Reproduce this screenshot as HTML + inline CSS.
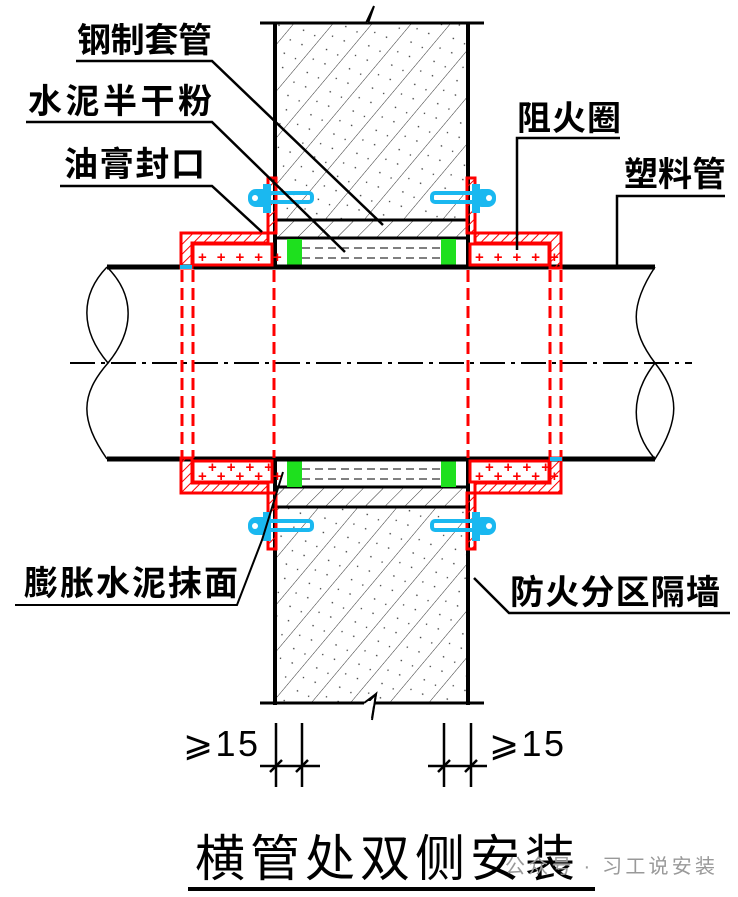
<!DOCTYPE html>
<html><head><meta charset="utf-8"><style>
html,body{margin:0;padding:0;background:#fff;}
svg{display:block;}
text{font-family:"Liberation Sans","Noto Sans CJK SC",sans-serif;}
</style></head><body>
<svg width="738" height="897" viewBox="0 0 738 897" xmlns="http://www.w3.org/2000/svg">
<defs>
<pattern id="hat" width="30" height="30" patternUnits="userSpaceOnUse" patternTransform="rotate(40)">
<line x1="0" y1="0" x2="0" y2="30" stroke="#333" stroke-width="1"/>
<circle cx="12" cy="8" r="0.8" fill="#333"/><circle cx="20" cy="20" r="0.8" fill="#333"/><circle cx="8" cy="24" r="0.7" fill="#333"/><circle cx="24" cy="5" r="0.7" fill="#333"/>
</pattern>
<pattern id="sl" width="14" height="14" patternUnits="userSpaceOnUse" patternTransform="rotate(45)">
<line x1="0" y1="0" x2="0" y2="14" stroke="#333" stroke-width="1"/>
</pattern>
<pattern id="rh" width="7" height="7" patternUnits="userSpaceOnUse" patternTransform="rotate(45)">
<line x1="0" y1="0" x2="0" y2="7" stroke="#f00" stroke-width="2"/>
</pattern>
</defs>
<rect width="738" height="897" fill="#fff"/>
<rect x="276" y="23" width="192" height="197" fill="url(#hat)"/>
<rect x="276" y="507" width="192" height="196" fill="url(#hat)"/>
<rect x="276" y="220" width="192" height="18" fill="url(#sl)"/>
<rect x="276" y="487" width="192" height="20" fill="url(#sl)"/>
<line x1="260" y1="23" x2="484" y2="23" stroke="#000" stroke-width="3"/>
<line x1="260" y1="703" x2="484" y2="703" stroke="#000" stroke-width="3"/>
<path d="M366 23 L374 6 L368 23" stroke="#000" stroke-width="2" fill="#fff"/>
<path d="M366 704 L376 694 L372 718" stroke="#000" stroke-width="2" fill="none"/>
<rect x="364" y="701" width="10" height="5" fill="#fff"/>
<path d="M364 703 L376 694 L372 720" stroke="#000" stroke-width="2" fill="none"/>
<line x1="275" y1="22" x2="275" y2="268" stroke="#000" stroke-width="4"/>
<line x1="468" y1="22" x2="468" y2="268" stroke="#000" stroke-width="4"/>
<line x1="275" y1="458" x2="275" y2="705" stroke="#000" stroke-width="4"/>
<line x1="468" y1="458" x2="468" y2="705" stroke="#000" stroke-width="4"/>
<line x1="276" y1="220" x2="468" y2="220" stroke="#000" stroke-width="3"/>
<line x1="276" y1="238" x2="468" y2="238" stroke="#000" stroke-width="3"/>
<line x1="276" y1="487" x2="468" y2="487" stroke="#000" stroke-width="3"/>
<line x1="276" y1="507" x2="468" y2="507" stroke="#000" stroke-width="3"/>
<g stroke="#000" stroke-width="1" stroke-dasharray="8,5">
<line x1="302" y1="248" x2="440" y2="248"/><line x1="302" y1="258" x2="440" y2="258"/>
<line x1="302" y1="469" x2="440" y2="469"/><line x1="302" y1="479" x2="440" y2="479"/>
</g>
<rect x="287" y="239" width="15" height="29" fill="#1ee01e"/>
<rect x="441" y="239" width="15" height="29" fill="#1ee01e"/>
<rect x="287" y="459" width="15" height="28" fill="#1ee01e"/>
<rect x="441" y="459" width="15" height="28" fill="#1ee01e"/>
<line x1="107" y1="267" x2="655" y2="267" stroke="#000" stroke-width="5"/>
<line x1="107" y1="459" x2="655" y2="459" stroke="#000" stroke-width="5"/>
<line x1="70" y1="363" x2="692" y2="363" stroke="#000" stroke-width="2" stroke-dasharray="25,6,4,6"/>
<g stroke="#000" stroke-width="1.5" fill="none">
<path d="M107 267 C80 295 80 330 108 363 C135 330 135 295 107 267"/>
<path d="M108 363 C80 395 80 420 107 459"/>
<path d="M655 267 C630 305 630 330 655 363 C680 395 680 420 655 459 C630 430 630 395 655 363"/>
</g>
<g fill="none" stroke="#f00" stroke-width="3">
<path d="M268 178 L276 178 L276 233 L268 233 Z" fill="url(#rh)"/>
<path d="M181 233 L268 233 L268 243 L192 243 L192 268 L181 268 Z" fill="url(#rh)"/>
<rect x="193" y="244" width="79" height="21"/>
<path d="M467 178 L475 178 L475 233 L467 233 Z" fill="url(#rh)"/>
<path d="M475 233 L561 233 L561 268 L550 268 L550 243 L475 243 Z" fill="url(#rh)"/>
<rect x="470" y="244" width="79" height="21"/>
<path d="M268 549 L276 549 L276 493 L268 493 Z" fill="url(#rh)"/>
<path d="M181 493 L268 493 L268 483 L192 483 L192 458 L181 458 Z" fill="url(#rh)"/>
<rect x="193" y="461" width="79" height="21"/>
<path d="M467 549 L475 549 L475 493 L467 493 Z" fill="url(#rh)"/>
<path d="M475 493 L561 493 L561 458 L550 458 L550 483 L475 483 Z" fill="url(#rh)"/>
<rect x="470" y="461" width="79" height="21"/>
</g>
<g fill="#f00" font-size="15" font-weight="bold">
<text x="198" y="262" letter-spacing="10">+++++</text><text x="475" y="262" letter-spacing="10">+++++</text>
<text x="208" y="472" letter-spacing="10">++++</text><text x="485" y="472" letter-spacing="10">++++</text>
<text x="198" y="481" letter-spacing="10">+++++</text><text x="475" y="481" letter-spacing="10">+++++</text>
</g>
<g stroke="#f00" stroke-width="3" stroke-dasharray="12,6">
<line x1="182" y1="270" x2="182" y2="458"/><line x1="193" y1="270" x2="193" y2="458"/>
<line x1="274" y1="270" x2="274" y2="458"/><line x1="468" y1="270" x2="468" y2="458"/>
<line x1="550" y1="270" x2="550" y2="458"/><line x1="561" y1="270" x2="561" y2="458"/>
</g>
<line x1="180" y1="267" x2="192" y2="267" stroke="#1ab8f0" stroke-width="4"/>
<line x1="550" y1="459" x2="562" y2="459" stroke="#1ab8f0" stroke-width="4"/>
<g stroke="#1ab8f0" stroke-width="4" fill="none">
<rect x="262" y="193" width="50" height="9" rx="3"/><rect x="432" y="193" width="50" height="9" rx="3"/>
<rect x="262" y="521" width="50" height="9" rx="3"/><rect x="432" y="521" width="50" height="9" rx="3"/>
</g>
<g fill="#1ab8f0">
<rect x="248" y="189" width="22" height="18" rx="8"/><rect x="474" y="189" width="22" height="18" rx="8"/>
<rect x="248" y="517" width="22" height="18" rx="8"/><rect x="474" y="517" width="22" height="18" rx="8"/>
<rect x="263" y="184" width="8" height="29"/><rect x="472" y="184" width="8" height="29"/>
<rect x="263" y="512" width="8" height="29"/><rect x="472" y="512" width="8" height="29"/>
</g>
<g fill="#fff"><circle cx="255" cy="198" r="3"/><circle cx="489" cy="198" r="3"/><circle cx="255" cy="526" r="3"/><circle cx="489" cy="526" r="3"/></g>
<g stroke="#000" stroke-width="2.5" fill="none">
<path d="M76 61 H212 L383 225"/>
<path d="M26 122 H212 L345 252"/>
<path d="M60 186 H212 L262 232"/>
<path d="M620 138 H517 V250"/>
<path d="M725 196 H617 V266"/>
<path d="M15 605 H237 L262 540 L283 472" stroke-width="2"/>
<path d="M730 613 H509 L474 578"/>
<path d="M276 723 V787 M302 723 V787 M444 723 V787 M471 723 V787"/>
<path d="M260 766 H320 M428 766 H487"/>
<path d="M270 772 L282 760 M296 772 L308 760 M438 772 L450 760 M465 772 L477 760"/>
<path d="M188 889 H595" stroke-width="4"/>
</g>
<g font-size="34" font-weight="bold" fill="#000">
<text x="77" y="52" textLength="135">钢制套管</text>
<text x="28" y="113" textLength="184">水泥半干粉</text>
<text x="64" y="176" textLength="141">油膏封口</text>
<text x="517" y="130" textLength="104">阻火圈</text>
<text x="624" y="186" textLength="102">塑料管</text>
<text x="24" y="595" textLength="214">膨胀水泥抹面</text>
<text x="510" y="604" textLength="210">防火分区隔墙</text>
</g>
<g font-family="Liberation Serif,'DejaVu Serif',serif" font-size="36" fill="#000">
<text x="183" y="756" textLength="75">⩾15</text><text x="489" y="756" textLength="75">⩾15</text>
</g>
<text x="195" y="876" font-size="50" textLength="380" fill="#000">横管处双侧安装</text>
<text x="505" y="873" font-size="20" fill="#999" textLength="210">公众号 · 习工说安装</text>
</svg>
</body></html>
